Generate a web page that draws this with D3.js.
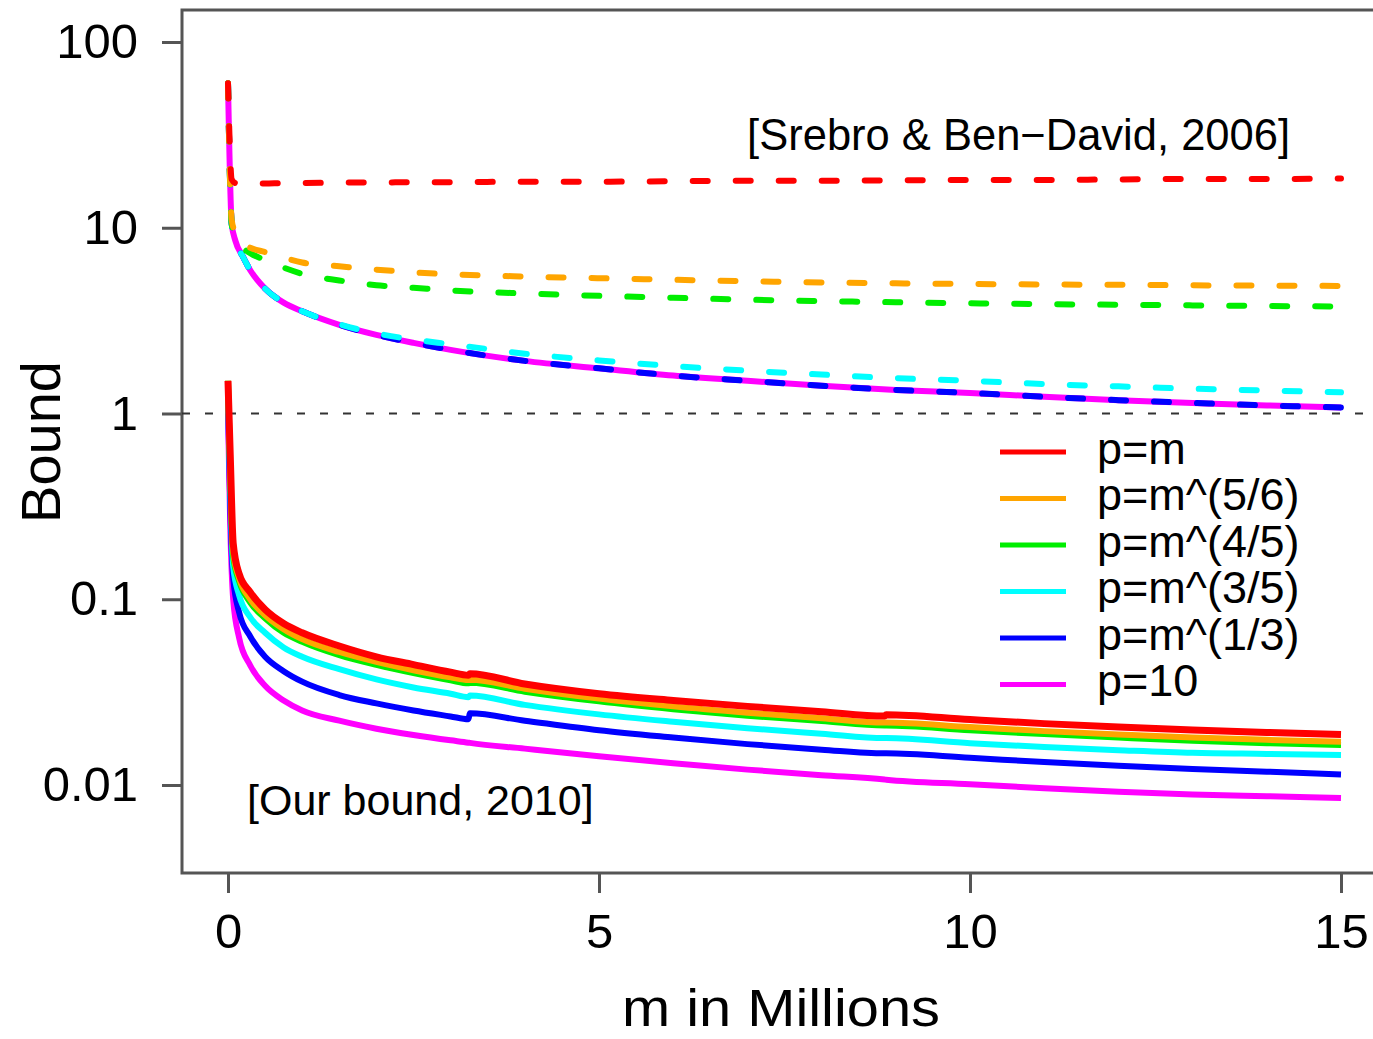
<!DOCTYPE html>
<html>

<head>
    <meta charset=utf-8 />
    <script src="https://cdn.jsdelivr.net/npm/d3@7"></script>
    <title>bound vs m</title>
    <style>
        html,
        body {
            margin: 0;
            padding: 0;
            background: #fff;
        }

        text {
            font-family: "Liberation Sans", Arial, Helvetica, sans-serif;
        }
    </style>
</head>

<body>
    <div id="svg-canvas"></div>
    <script>
        // m in millions, upper (dashed) curves: [Srebro & Ben-David, 2006]
        var mUpper = [0, 0.05, 0.1, 0.2, 0.3, 0.5, 0.75, 1, 1.5, 2, 2.5, 3, 4, 5, 6, 7, 8, 9, 10, 11, 12, 13, 14, 15];
        var srebroRed = [60, 18.2, 17.4, 17.3, 17.3, 17.3, 17.4, 17.4, 17.5, 17.5, 17.6, 17.6, 17.7, 17.7, 17.8, 17.9, 17.9, 18.0, 18.1, 18.1, 18.2, 18.3, 18.3, 18.4];
        var srebroOrange = [60, 11, 9.4, 8.2, 7.8, 7.4, 6.9, 6.5, 6.2, 5.95, 5.75, 5.62, 5.46, 5.35, 5.25, 5.15, 5.08, 5.02, 4.98, 4.95, 4.93, 4.9, 4.88, 4.86];
        var srebroGreen = [60, 10.5, 9.0, 7.8, 7.3, 6.7, 6.1, 5.65, 5.2, 4.9, 4.75, 4.6, 4.43, 4.3, 4.2, 4.1, 4.03, 3.97, 3.92, 3.88, 3.85, 3.82, 3.79, 3.77];
        var srebroCyan = [60, 10.5, 8.5, 7.0, 5.9, 4.7, 3.95, 3.55, 3.02, 2.7, 2.5, 2.36, 2.1, 1.93, 1.8, 1.7, 1.62, 1.55, 1.5, 1.44, 1.4, 1.36, 1.33, 1.30];
        var srebroBlue = [60, 10.5, 8.5, 7.0, 5.9, 4.7, 3.95, 3.55, 3.0, 2.65, 2.4, 2.2, 1.92, 1.75, 1.6, 1.5, 1.41, 1.34, 1.29, 1.23, 1.18, 1.14, 1.105, 1.077];
        var srebroMagenta = [60, 10.5, 8.5, 7.0, 5.9, 4.7, 3.95, 3.55, 3.0, 2.65, 2.4, 2.2, 1.92, 1.75, 1.6, 1.5, 1.41, 1.34, 1.29, 1.23, 1.18, 1.14, 1.105, 1.077];

        // lower (solid) curves: [Our bound, 2010]
        var mLower = [0, 0.03, 0.07, 0.15, 0.3, 0.5, 0.75, 1, 1.5, 2, 2.5, 3, 3.24, 3.26, 4, 5, 6, 7, 8, 8.85, 8.87, 10, 11, 12, 13, 14, 15];
        var oursRed = [1.5, 0.6, 0.2, 0.137, 0.109, 0.088, 0.074, 0.066, 0.056, 0.049, 0.0445, 0.0405, 0.039, 0.0397, 0.035, 0.031, 0.0285, 0.0265, 0.0248, 0.0235, 0.0239, 0.0225, 0.0214, 0.0205, 0.0198, 0.0192, 0.0187];
        var oursOrange = [1.5, 0.5, 0.18, 0.13, 0.1, 0.082, 0.069, 0.061, 0.052, 0.046, 0.0415, 0.038, 0.0367, 0.0369, 0.033, 0.0292, 0.0265, 0.0245, 0.0229, 0.0217, 0.0217, 0.0205, 0.0195, 0.0187, 0.018, 0.0175, 0.0171];
        var oursGreen = [1.5, 0.48, 0.17, 0.125, 0.096, 0.079, 0.066, 0.059, 0.05, 0.0443, 0.04, 0.0366, 0.0353, 0.0355, 0.0318, 0.0282, 0.0256, 0.0236, 0.0221, 0.0209, 0.0209, 0.0197, 0.0188, 0.018, 0.0173, 0.0168, 0.0164];
        var oursCyan = [1.3, 0.4, 0.15, 0.105, 0.08, 0.066, 0.055, 0.049, 0.042, 0.037, 0.0335, 0.031, 0.0297, 0.0303, 0.027, 0.024, 0.0219, 0.0202, 0.0189, 0.0179, 0.0179, 0.0168, 0.016, 0.0154, 0.0149, 0.0147, 0.0145];
        var oursBlue = [1.2, 0.33, 0.13, 0.085, 0.063, 0.049, 0.041, 0.036, 0.0305, 0.0275, 0.0252, 0.0234, 0.0226, 0.0243, 0.0222, 0.0197, 0.018, 0.0166, 0.0155, 0.0148, 0.0148, 0.014, 0.0133, 0.0127, 0.0122, 0.0118, 0.0114];
        var oursMagenta = [1.0, 0.25, 0.1, 0.062, 0.044, 0.0342, 0.0285, 0.0252, 0.0222, 0.0201, 0.0186, 0.0174, 0.0169, 0.01685, 0.0157, 0.0143, 0.0131, 0.0121, 0.0113, 0.0107, 0.01068, 0.0101, 0.0096, 0.0092, 0.0089, 0.0087, 0.0085];

        var seriesLabels = ['p=m', 'p=m^(5/6)', 'p=m^(4/5)', 'p=m^(3/5)', 'p=m^(1/3)', 'p=10'];
        var seriesColors = ['#ff0000', '#ffa500', '#00ee00', '#00ffff', '#0000ff', '#ff00ff'];
        var xTicks = [0, 5, 10, 15];
        var yTicks = [0.01, 0.1, 1, 10, 100];
    </script>
    <script>
        var width = 1373;
        var height = 1039;

        var svg = d3.select('#svg-canvas').append('svg')
            .attr('width', width)
            .attr('height', height)
            .style('display', 'block');

        var x = d3.scaleLinear().domain([0, 15]).range([228, 1341]);
        var y = d3.scaleLog().domain([0.01, 100]).range([785, 42]);

        var plotLeft = 182, plotTop = 10, plotBottom = 873;

        // plot frame (right edge runs off the picture)
        svg.append('rect')
            .attr('x', plotLeft)
            .attr('y', plotTop)
            .attr('width', 1300)
            .attr('height', plotBottom - plotTop)
            .attr('fill', 'none')
            .attr('stroke', '#555')
            .attr('stroke-width', 3);

        // axes
        var yAxis = d3.axisLeft(y)
            .tickValues(yTicks)
            .tickFormat(d => String(d))
            .tickSize(20)
            .tickPadding(24);

        var gy = svg.append('g')
            .attr('transform', 'translate(' + plotLeft + ',0)')
            .call(yAxis);

        var xAxis = d3.axisBottom(x)
            .tickValues(xTicks)
            .tickFormat(d3.format('d'))
            .tickSize(20)
            .tickPadding(20);

        var gx = svg.append('g')
            .attr('transform', 'translate(0,' + plotBottom + ')')
            .call(xAxis);

        [gx, gy].forEach(g => {
            g.select('.domain').remove();
            g.selectAll('line').attr('stroke', '#555').attr('stroke-width', 3);
            g.selectAll('text').attr('font-size', 49).attr('fill', '#000')
                .style('font-family', '"Liberation Sans", Arial, sans-serif');
        });

        // reference line at bound = 1
        svg.append('line')
            .attr('x1', plotLeft)
            .attr('x2', width)
            .attr('y1', y(1))
            .attr('y2', y(1))
            .attr('stroke', '#333')
            .attr('stroke-width', 2)
            .attr('stroke-dasharray', '8,15');

        var line = d3.line()
            .x(d => x(d[0]))
            .y(d => y(d[1]))
            .curve(d3.curveMonotoneX);

        var upper = [srebroRed, srebroOrange, srebroGreen, srebroCyan, srebroBlue, srebroMagenta];
        var lower = [oursRed, oursOrange, oursGreen, oursCyan, oursBlue, oursMagenta];

        var curves = svg.append('g');

        // magenta upper curve is solid, drawn beneath the dashes
        curves.append('path')
            .attr('d', line(d3.zip(mUpper, srebroMagenta)))
            .attr('fill', 'none')
            .attr('stroke', seriesColors[5])
            .attr('stroke-width', 6);

        // dashed curves, red last so it sits on top
        d3.range(4, -1, -1).forEach(i => {
            curves.append('path')
                .attr('d', line(d3.zip(mUpper, upper[i])))
                .attr('fill', 'none')
                .attr('stroke', seriesColors[i])
                .attr('stroke-width', 6)
                .attr('stroke-linecap', 'round')
                .attr('stroke-dasharray', '15,28');
        });

        // solid lower curves, red last so it sits on top
        d3.range(5, -1, -1).forEach(i => {
            curves.append('path')
                .attr('d', line(d3.zip(mLower, lower[i])))
                .attr('fill', 'none')
                .attr('stroke', seriesColors[i])
                .attr('stroke-width', i == 0 ? 7 : 6)
                .attr('stroke-linejoin', 'round');
        });

        // annotations
        svg.append('text')
            .attr('x', 1290)
            .attr('y', 135)
            .attr('text-anchor', 'end')
            .attr('dominant-baseline', 'central')
            .attr('font-size', 43.5)
            .text('[Srebro & Ben\u2212David, 2006]');

        svg.append('text')
            .attr('x', 247)
            .attr('y', 800)
            .attr('dominant-baseline', 'central')
            .attr('font-size', 43)
            .text('[Our bound, 2010]');

        // legend
        var legend = svg.append('g');
        seriesLabels.forEach((lab, i) => {
            var ly = 452 + i * 46.5;
            legend.append('line')
                .attr('x1', 1000).attr('x2', 1066)
                .attr('y1', ly).attr('y2', ly)
                .attr('stroke', seriesColors[i])
                .attr('stroke-width', 5);
            legend.append('text')
                .attr('x', 1097)
                .attr('y', ly - 4)
                .attr('dominant-baseline', 'central')
                .attr('font-size', 45)
                .text(lab);
        });

        // axis titles
        svg.append('text')
            .attr('x', 622)
            .attr('y', 1026)
            .attr('font-size', 51)
            .attr('textLength', 318)
            .attr('lengthAdjust', 'spacingAndGlyphs')
            .text('m in Millions');

        svg.append('text')
            .attr('transform', 'translate(40,442) rotate(-90)')
            .attr('text-anchor', 'middle')
            .attr('dominant-baseline', 'central')
            .attr('font-size', 56)
            .text('Bound');
    </script>
</body>

</html>
